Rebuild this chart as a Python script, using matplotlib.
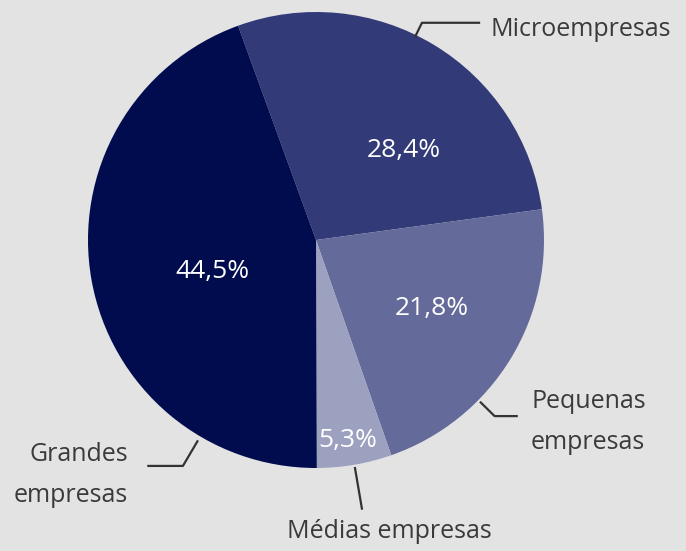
import numpy as np
import matplotlib.pyplot as plt

plt.rcParams['font.family'] = ['Open Sans', 'DejaVu Sans']

# data
categories = ['Microempresas', 'Pequenas\nempresas', 'Médias empresas', 'Grandes\nempresas']
shares = [28.4, 21.8, 5.3, 44.5]
colors = ['#323b77', '#646b9b', '#9da1c0', '#000c4e']

bg = '#e3e3e3'
txt = '#3a3a3a'

fig = plt.figure(figsize=(6.86, 5.51), dpi=100, facecolor=bg)
ax = fig.add_axes([0, 0, 1, 1])
ax.set_facecolor(bg)

wedges, _ = ax.pie(shares, colors=colors, startangle=110, counterclock=False,
                   radius=1, center=(0, 0), wedgeprops=dict(linewidth=0))

# percentage labels inside slices: (angle, radius)
pct_pos = [(45.5, 0.55), (-30.4, 0.59), (-80.9, 0.89), (197.0, 0.477)]
for v, (ang, r) in zip(shares, pct_pos):
    a = np.deg2rad(ang)
    ax.text(r * np.cos(a), r * np.sin(a), f'{v:.1f}%'.replace('.', ','),
            color='white', fontsize=19, ha='center', va='center')

# leader lines: (start angle, r start, r elbow, x end or None), label pos, align
leaders = [
    (64.0, 0.99, 1.06, 0.72, (0.765, 0.925), 'left'),
    (-44.6, 1.01, 1.10, 0.885, (0.943, -0.80), 'left'),
    (-80.3, 1.01, 1.20, None, (0.32, -1.28), 'center'),
    (-120.5, 1.02, 1.15, -0.74, (-0.825, -1.03), 'right'),
]
for cat, (ang, r0, r1, xe, (tx, ty), ha) in zip(categories, leaders):
    a = np.deg2rad(ang)
    xs = [r0 * np.cos(a), r1 * np.cos(a)]
    ys = [r0 * np.sin(a), r1 * np.sin(a)]
    if xe is not None:
        xs.append(xe)
        ys.append(ys[-1])
    ax.plot(xs, ys, color='#333333', lw=1.6, solid_capstyle='butt')
    ax.text(tx, ty, cat, color=txt, fontsize=18, ha=ha, va='center',
            multialignment=ha, linespacing=1.85)

ax.set_xlim(-316 / 228, 370 / 228)
ax.set_ylim(-311 / 228, 240 / 228)
ax.set_aspect('auto')
ax.axis('off')

fig.savefig('out.png', dpi=100, facecolor=bg)
